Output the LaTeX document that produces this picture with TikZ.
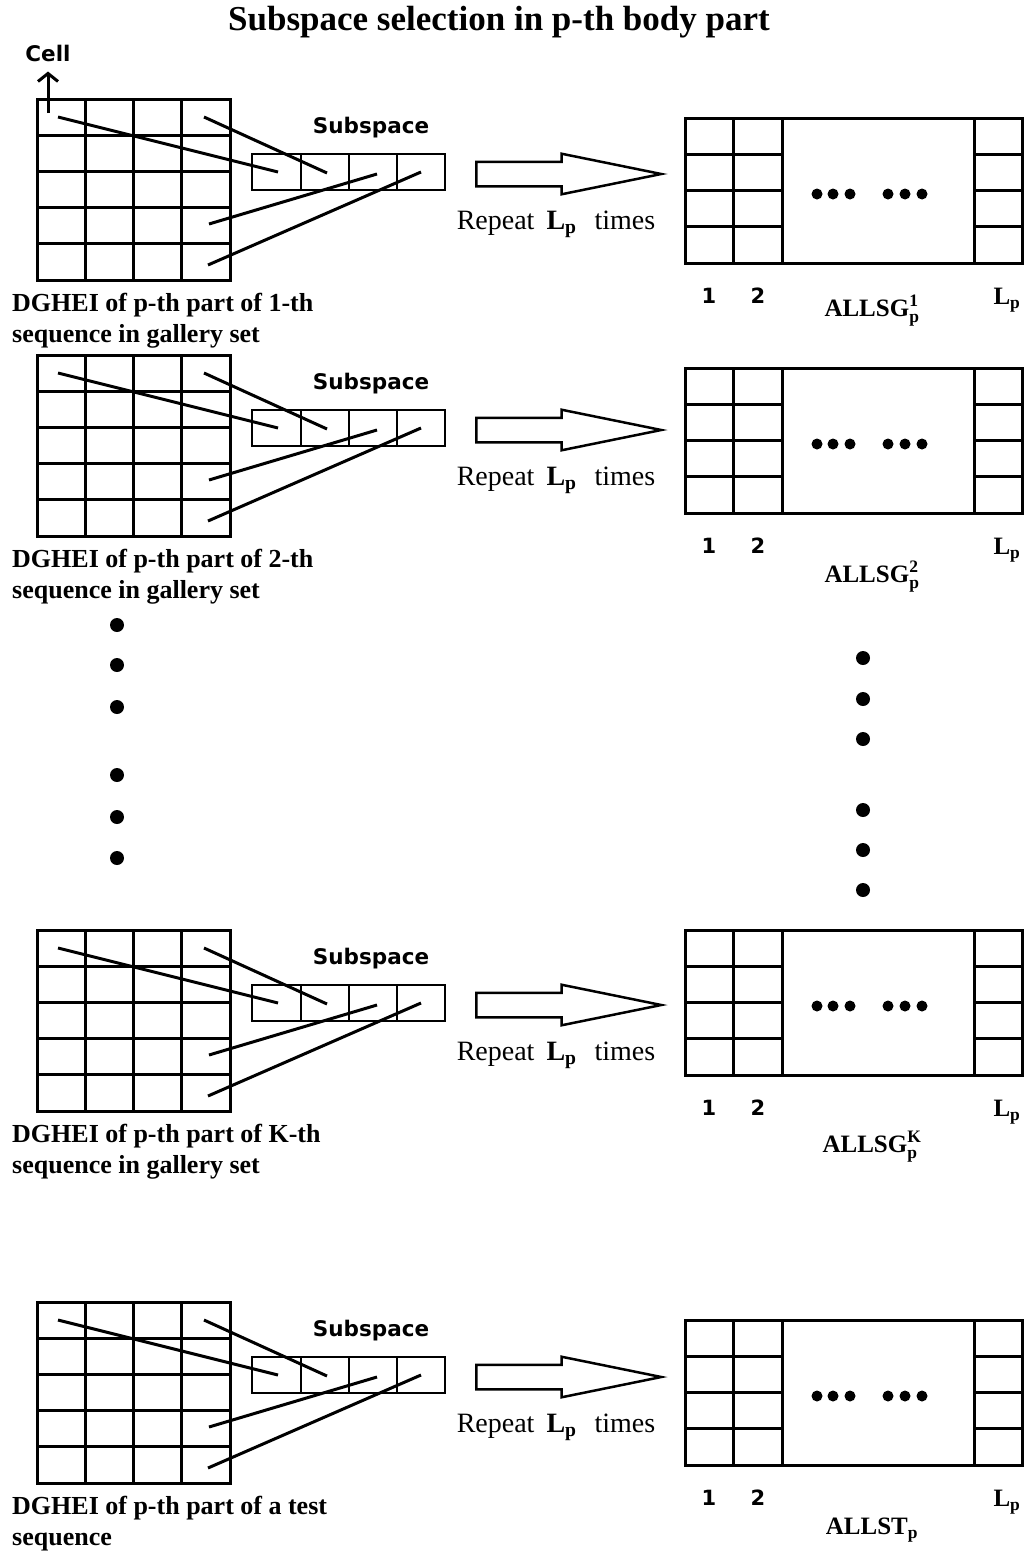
\documentclass[tikz,border=0pt]{standalone}
\usepackage{amsmath}
\usepackage{fontspec}
\setmainfont{Liberation Serif}
\newfontfamily\cellfont{DejaVu Sans}
\usetikzlibrary{shapes.arrows,arrows.meta}

\begin{document}
\begin{tikzpicture}[
    x=1pt, y=-1pt,
    gridline/.style={line width=3pt, line cap=rect},
    stripline/.style={line width=2pt, line cap=rect},
    pickline/.style={line width=3pt},
    sanslabel/.style={font=\cellfont\bfseries\fontsize{21.5}{25}\selectfont, inner sep=0pt},
    numlabel/.style={font=\cellfont\bfseries\fontsize{21}{25}\selectfont, inner sep=0pt},
    serifbold/.style={font=\bfseries\fontsize{25}{30}\selectfont, inner sep=0pt},
    caption/.style={font=\bfseries\fontsize{26}{30.5}\selectfont, inner sep=0pt, anchor=north west, align=left},
    repeatlabel/.style={font=\fontsize{28}{32}\selectfont, inner sep=0pt},
    bigarrow/.style={single arrow, draw, line width=2.5pt, minimum height=185pt, single arrow head extend=8pt, single arrow tip angle=23, inner xsep=0pt, inner ysep=11pt, anchor=tail}
]
\useasboundingbox (0,0) rectangle (1027,1553);

\node [font=\bfseries\fontsize{35}{40}\selectfont, inner sep=0pt] (title) at (499,22) {Subspace selection in p-th body part};

% marker for one cell of the first image
\node [sanslabel] (cell) at (48,53) {Cell};
\coordinate (cellpt) at (48,113);
\draw [line width=3pt, -{Straight Barb[length=8pt,width=20pt]}, shorten >=10pt] (cellpt) -- (cell);

% one row per sequence: image, subspace, repeated subspaces
\foreach \g/\m/\n/\who/\what [count=\i] in {
    99/118/311/{1-th\\sequence in gallery set}/{$\text{ALLSG}^{\text{1}}_{\text{p}}$},
    355/368/577/{2-th\\sequence in gallery set}/{$\text{ALLSG}^{\text{2}}_{\text{p}}$},
    930/930/1147/{K-th\\sequence in gallery set}/{$\text{ALLSG}^{\text{K}}_{\text{p}}$},
    1302/1320/1530/{a test\\sequence}/{ALLST\textsubscript{p}}}
{
    % DGHEI grid
    \foreach \c in {0,...,4} \draw [gridline] (37+48.25*\c,\g) -- (37+48.25*\c,\g+181);
    \foreach \r in {0,...,5} \draw [gridline] (37,\g+36.2*\r) -- (230,\g+36.2*\r);
    \node [caption] (cap\i) at (12,\g+194) {DGHEI of p-th part of \who};

    % subspace strip
    \draw [stripline] (252,\g+55) rectangle (445,\g+91);
    \foreach \x in {301,349,397} \draw [stripline] (\x,\g+55) -- (\x,\g+91);
    \node [sanslabel] (sub\i) at (371,\g+29) {Subspace};

    \coordinate (src\i-1) at (58,\g+18);
    \coordinate (src\i-2) at (204,\g+18);
    \coordinate (src\i-3) at (209,\g+125);
    \coordinate (src\i-4) at (208,\g+166);
    \coordinate (dst\i-1) at (278,\g+73);
    \coordinate (dst\i-2) at (327,\g+74);
    \coordinate (dst\i-3) at (377,\g+75);
    \coordinate (dst\i-4) at (421,\g+73);
    \foreach \k in {1,...,4} \draw [pickline] (src\i-\k) -- (dst\i-\k);

    % repeat arrow
    \node [bigarrow] (rep\i) at (475,\g+75) {};
    \node [repeatlabel] (replbl\i) at (556,\g+125) {Repeat\hspace{12pt}\textbf{L\textsubscript{p}}\hspace{18pt}times};

    % stacked subspaces
    \draw [gridline] (685,\m) rectangle (1022,\m+145);
    \foreach \x in {733,782,974} \draw [gridline] (\x,\m) -- (\x,\m+145);
    \foreach \r in {1,2,3} \draw [gridline] (685,\m+36.25*\r) -- (782,\m+36.25*\r) (974,\m+36.25*\r) -- (1022,\m+36.25*\r);
    \foreach \x in {817,833,850,888,905,922} \fill (\x,\m+76) circle (5.5);
    \node [numlabel] (one\i) at (709,\m+178) {1};
    \node [numlabel] (two\i) at (758,\m+178) {2};
    \node [serifbold] (last\i) at (1007,\m+182) {L\textsubscript{p}};
    \node [serifbold] (name\i) at (872,\n) {\what};
}

% skipped sequences
\foreach \y in {625,665,707,775,817,858} \fill (117,\y) circle (7);
\foreach \y in {658,699,739,810,850,890} \fill (863,\y) circle (7);
\end{tikzpicture}
\end{document}
